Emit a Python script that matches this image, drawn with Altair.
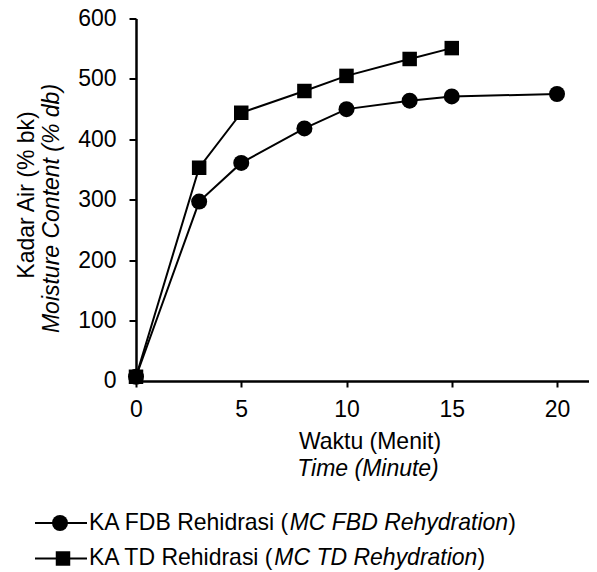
import altair as alt
import pandas as pd

# ---- data ----
time_fdb = [0, 3, 5, 8, 10, 13, 15, 20]
mc_fdb = [7, 297, 361, 418, 450, 464, 471, 475]
time_td = [0, 3, 5, 8, 10, 13, 15]
mc_td = [7, 353, 444, 480, 505, 533, 551]
series_names = ["FDB", "TD"]
x_ticks = [0, 5, 10, 15, 20]
y_ticks = [0, 100, 200, 300, 400, 500, 600]

FONT = "Liberation Sans"
FS = 23

df = pd.DataFrame(
    {"time": time_fdb + time_td,
     "mc": mc_fdb + mc_td,
     "series": [series_names[0]] * len(time_fdb) + [series_names[1]] * len(time_td)}
)

W, H = 452.6, 362.5
x = alt.X("time:Q", scale=alt.Scale(domain=[0, 21.5], nice=False, zero=False),
          axis=alt.Axis(values=x_ticks, title=None, grid=False, tickSize=6,
                        labelPadding=12, format="d", labelFlush=False))
y = alt.Y("mc:Q", scale=alt.Scale(domain=[0, 600], nice=False),
          axis=alt.Axis(values=y_ticks, title=None, grid=False, tickSize=7,
                        labelPadding=13, format="d", labelFlush=False))

lines = alt.Chart(df).mark_line(color="black", strokeWidth=2).encode(x=x, y=y, detail="series:N")
points = alt.Chart(df).mark_point(filled=True, color="black", opacity=1).encode(
    x=x, y=y,
    shape=alt.Shape("series:N", scale=alt.Scale(domain=series_names, range=["circle", "square"]), legend=None),
    size=alt.Size("series:N", scale=alt.Scale(domain=series_names, range=[256, 210]), legend=None),
)

one = alt.Data(values=[{"a": 1}])


def txt(s, px, py, italic=False, angle=0, align="center"):
    kw = dict(text=s, font=FONT, fontSize=FS, color="black", align=align, baseline="middle")
    if italic:
        kw["fontStyle"] = "italic"
    if angle:
        kw["angle"] = angle
    return alt.Chart(one).mark_text(**kw).encode(x=alt.value(px), y=alt.value(py))


# Arial-compatible advance widths (per em) for legend text segmentation
CW = {"K": .667, "A": .667, " ": .278, "F": .611, "D": .722, "B": .667, "R": .722, "e": .556,
      "h": .556, "i": .222, "d": .556, "r": .333, "a": .556, "s": .5, "(": .333, ")": .333,
      "M": .833, "C": .722, "y": .5, "t": .278, "o": .556, "n": .556, "T": .611}


def tw(s):
    return sum(CW.get(c, .556) for c in s) * FS


layers = [lines, points]
# axis titles
layers.append(txt("Kadar Air (% bk)", -109, 176.5, angle=270))
layers.append(txt("Moisture Content (% db)", -84, 190, italic=True, angle=270))
layers.append(txt("Waktu (Menit)", 234, 424))
layers.append(txt("Time (Minute)", 232, 450.5, italic=True))

# legend
leg_rows = [
    ("KA FDB Rehidrasi (", "MC FBD Rehydration", 504.5, "circle", 256, -76),
    ("KA TD Rehidrasi (", "MC TD Rehydration", 540, "square", 210, -73),
]
for a, b, py, shp, sz, mx in leg_rows:
    layers.append(alt.Chart(one).mark_rule(color="black", strokeWidth=2).encode(
        x=alt.value(-101), x2=alt.value(-49), y=alt.value(py)))
    layers.append(alt.Chart(one).mark_point(shape=shp, size=sz, filled=True, color="black", opacity=1).encode(
        x=alt.value(mx), y=alt.value(py)))
    x0 = -47
    layers.append(txt(a, x0, py, align="left"))
    layers.append(txt(b, x0 + tw(a), py, italic=True, align="left"))
    layers.append(txt(")", x0 + tw(a) + tw(b), py, align="left"))

chart = alt.layer(*layers).properties(
    width=W, height=H,
    autosize=alt.AutoSizeParams(type="none"),
    padding={"left": 128, "top": 10.5, "right": 0, "bottom": 191},
).configure(font=FONT).configure_view(strokeWidth=0).configure_axis(
    labelFont=FONT, labelFontSize=FS, labelColor="black", domainColor="black",
    domainWidth=2.5, tickColor="black", tickWidth=2,
)

chart.save("out.html", embed_options={"renderer": "svg", "actions": False})
